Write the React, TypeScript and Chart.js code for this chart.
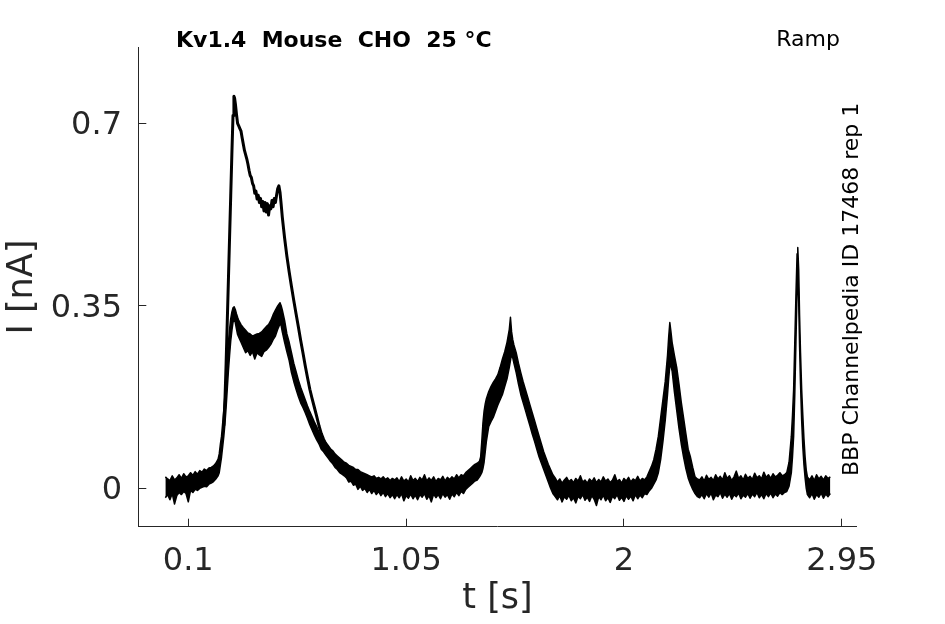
import { useEffect, useRef } from "react";
import { Chart, registerables } from "chart.js";

Chart.register(...registerables);

const xTicks = [0.1, 1.05, 2, 2.95];
const xTickLabels = ["0.1", "1.05", "2", "2.95"];
const yTicks = [0, 0.35, 0.7];
const yTickLabels = ["0", "0.35", "0.7"];

// overlaid small-amplitude sweeps, drawn as a band: [t (s), lower edge (nA), upper edge (nA)]
const base1 = [
	[0.0, -0.018, 0.022], [0.01, -0.012, 0.018], [0.02, -0.022, 0.015], [0.03, -0.01, 0.024],
	[0.04, -0.03, 0.016], [0.05, -0.014, 0.02], [0.06, -0.008, 0.026], [0.07, -0.012, 0.019],
	[0.08, -0.006, 0.028], [0.09, -0.01, 0.022], [0.1, -0.026, 0.024], [0.11, -0.004, 0.03],
	[0.12, -0.008, 0.025], [0.13, -0.002, 0.032], [0.14, -0.004, 0.027], [0.15, 0.0, 0.034],
	[0.16, 0.002, 0.031], [0.17, 0.004, 0.037], [0.18, 0.003, 0.034], [0.19, 0.008, 0.039],
	[0.2, 0.01, 0.04], [0.21, 0.013, 0.043], [0.22, 0.018, 0.048], [0.23, 0.024, 0.056],
];

const peak1 = [
	[0.235, 0.03, 0.066], [0.24, 0.045, 0.085], [0.245, 0.06, 0.1], [0.25, 0.08, 0.125],
	[0.255, 0.1, 0.15], [0.26, 0.125, 0.18], [0.265, 0.155, 0.215], [0.27, 0.19, 0.25],
	[0.275, 0.225, 0.28], [0.28, 0.255, 0.305], [0.285, 0.282, 0.325], [0.29, 0.302, 0.338],
	[0.295, 0.318, 0.346], [0.3, 0.325, 0.348], [0.305, 0.318, 0.343], [0.31, 0.306, 0.335],
	[0.315, 0.295, 0.328], [0.32, 0.29, 0.322], [0.33, 0.28, 0.314], [0.34, 0.27, 0.308],
	[0.35, 0.26, 0.303], [0.36, 0.264, 0.298], [0.37, 0.255, 0.296], [0.38, 0.262, 0.292],
	[0.39, 0.248, 0.294], [0.4, 0.26, 0.296], [0.41, 0.256, 0.297], [0.42, 0.253, 0.3],
	[0.43, 0.262, 0.305], [0.44, 0.265, 0.31], [0.45, 0.27, 0.314], [0.46, 0.276, 0.322],
	[0.47, 0.285, 0.333], [0.48, 0.292, 0.342], [0.49, 0.305, 0.35], [0.5, 0.315, 0.356],
	[0.505, 0.312, 0.35], [0.51, 0.3, 0.342], [0.52, 0.28, 0.322], [0.53, 0.262, 0.296],
	[0.54, 0.245, 0.28], [0.55, 0.222, 0.26], [0.56, 0.205, 0.24], [0.57, 0.19, 0.224],
	[0.58, 0.176, 0.208], [0.59, 0.164, 0.194], [0.6, 0.155, 0.182], [0.61, 0.145, 0.17],
	[0.62, 0.134, 0.158], [0.63, 0.122, 0.147], [0.64, 0.112, 0.137], [0.65, 0.102, 0.127],
	[0.66, 0.093, 0.118], [0.67, 0.085, 0.108], [0.68, 0.075, 0.1], [0.69, 0.07, 0.094],
	[0.7, 0.064, 0.088], [0.71, 0.058, 0.082], [0.72, 0.052, 0.076], [0.73, 0.047, 0.072],
	[0.74, 0.04, 0.066], [0.75, 0.036, 0.062], [0.76, 0.03, 0.058], [0.77, 0.027, 0.054],
	[0.78, 0.024, 0.05], [0.79, 0.02, 0.048], [0.8, 0.012, 0.044], [0.81, 0.014, 0.042],
	[0.82, 0.006, 0.04], [0.83, 0.008, 0.036], [0.84, -0.002, 0.036], [0.85, 0.004, 0.032],
	[0.86, -0.004, 0.03], [0.87, 0.0, 0.028], [0.88, -0.008, 0.026], [0.89, -0.002, 0.024],
	[0.9, -0.01, 0.022], [0.91, -0.004, 0.024], [0.92, -0.012, 0.019], [0.93, -0.006, 0.021],
	[0.94, -0.014, 0.018], [0.95, -0.008, 0.022], [0.96, -0.016, 0.017], [0.97, -0.01, 0.02],
	[0.98, -0.018, 0.015], [0.99, -0.012, 0.019],
];

const base2 = [
	[1.0, -0.02, 0.016], [1.01, -0.012, 0.02], [1.02, -0.018, 0.013], [1.03, -0.01, 0.022],
	[1.04, -0.024, 0.014], [1.05, -0.014, 0.018], [1.06, -0.019, 0.012], [1.07, -0.011, 0.024],
	[1.08, -0.02, 0.015], [1.09, -0.013, 0.019], [1.1, -0.022, 0.013], [1.11, -0.012, 0.021],
	[1.12, -0.017, 0.016], [1.13, -0.01, 0.026], [1.14, -0.021, 0.014], [1.15, -0.014, 0.02],
	[1.16, -0.026, 0.015], [1.17, -0.011, 0.022], [1.18, -0.018, 0.013], [1.19, -0.012, 0.019],
	[1.2, -0.02, 0.016], [1.21, -0.01, 0.023], [1.22, -0.017, 0.014], [1.23, -0.012, 0.021],
	[1.24, -0.021, 0.017], [1.25, -0.011, 0.022], [1.26, -0.016, 0.018], [1.27, -0.008, 0.026],
	[1.28, -0.014, 0.02], [1.29, -0.006, 0.026], [1.3, -0.01, 0.024],
];

const peak2 = [
	[1.31, -0.002, 0.03], [1.32, 0.002, 0.034], [1.33, 0.006, 0.038], [1.34, 0.01, 0.042],
	[1.35, 0.014, 0.046], [1.36, 0.016, 0.048], [1.37, 0.022, 0.052], [1.375, 0.026, 0.06],
	[1.38, 0.03, 0.09], [1.385, 0.038, 0.125], [1.39, 0.05, 0.148], [1.395, 0.07, 0.162],
	[1.4, 0.09, 0.172], [1.41, 0.118, 0.185], [1.42, 0.128, 0.195], [1.43, 0.136, 0.203],
	[1.44, 0.148, 0.21], [1.45, 0.16, 0.218], [1.46, 0.17, 0.232], [1.47, 0.18, 0.248],
	[1.48, 0.195, 0.262], [1.49, 0.21, 0.28], [1.5, 0.232, 0.305], [1.505, 0.245, 0.328],
	[1.51, 0.258, 0.3], [1.515, 0.25, 0.285], [1.52, 0.24, 0.275], [1.53, 0.222, 0.26],
	[1.54, 0.2, 0.24], [1.55, 0.18, 0.222], [1.56, 0.165, 0.205], [1.57, 0.15, 0.19],
	[1.58, 0.135, 0.175], [1.59, 0.12, 0.16], [1.6, 0.104, 0.145], [1.61, 0.09, 0.13],
	[1.62, 0.075, 0.115], [1.63, 0.06, 0.1], [1.64, 0.048, 0.085], [1.65, 0.036, 0.07],
	[1.66, 0.024, 0.058], [1.67, 0.012, 0.046], [1.68, 0.0, 0.036], [1.69, -0.01, 0.026],
	[1.7, -0.016, 0.02],
];

const base3 = [
	[1.71, -0.022, 0.012], [1.72, -0.014, 0.018], [1.73, -0.026, 0.01], [1.74, -0.016, 0.016],
	[1.75, -0.021, 0.021], [1.76, -0.013, 0.013], [1.77, -0.024, 0.017], [1.78, -0.018, 0.011],
	[1.79, -0.028, 0.019], [1.8, -0.015, 0.014], [1.81, -0.02, 0.024], [1.82, -0.012, 0.012],
	[1.83, -0.023, 0.016], [1.84, -0.017, 0.01], [1.85, -0.025, 0.018], [1.86, -0.014, 0.013],
	[1.87, -0.021, 0.02], [1.88, -0.033, 0.011], [1.89, -0.016, 0.017], [1.9, -0.022, 0.012],
	[1.91, -0.013, 0.022], [1.92, -0.024, 0.014], [1.93, -0.018, 0.018], [1.94, -0.027, 0.011],
	[1.95, -0.015, 0.016], [1.96, -0.02, 0.026], [1.97, -0.012, 0.013], [1.98, -0.023, 0.017],
	[1.99, -0.017, 0.01], [2.0, -0.025, 0.019], [2.01, -0.014, 0.014], [2.02, -0.021, 0.021],
	[2.03, -0.015, 0.012], [2.04, -0.024, 0.018], [2.05, -0.012, 0.015], [2.06, -0.02, 0.023],
	[2.07, -0.013, 0.014], [2.08, -0.018, 0.019], [2.09, -0.01, 0.016],
];

const peak3 = [
	[2.1, -0.012, 0.022], [2.11, -0.005, 0.032], [2.12, 0.0, 0.042], [2.13, 0.008, 0.055],
	[2.14, 0.016, 0.075], [2.15, 0.03, 0.1], [2.16, 0.055, 0.135], [2.17, 0.09, 0.17],
	[2.18, 0.13, 0.205], [2.19, 0.18, 0.255], [2.195, 0.21, 0.29], [2.2, 0.235, 0.318],
	[2.205, 0.235, 0.3], [2.21, 0.225, 0.28], [2.22, 0.185, 0.255], [2.23, 0.15, 0.232],
	[2.24, 0.115, 0.2], [2.25, 0.085, 0.165], [2.26, 0.06, 0.135], [2.27, 0.038, 0.105],
	[2.28, 0.02, 0.075], [2.29, 0.008, 0.06], [2.3, -0.002, 0.04], [2.31, -0.01, 0.022],
	[2.32, -0.016, 0.018],
];

const base4 = [
	[2.33, -0.018, 0.016], [2.34, -0.012, 0.022], [2.35, -0.02, 0.014], [2.36, -0.01, 0.025],
	[2.37, -0.017, 0.017], [2.38, -0.009, 0.021], [2.39, -0.022, 0.015], [2.4, -0.013, 0.026],
	[2.41, -0.016, 0.018], [2.42, -0.008, 0.023], [2.43, -0.019, 0.016], [2.44, -0.011, 0.03],
	[2.45, -0.017, 0.019], [2.46, -0.01, 0.024], [2.47, -0.021, 0.015], [2.48, -0.012, 0.022],
	[2.49, -0.016, 0.033], [2.5, -0.009, 0.019], [2.51, -0.02, 0.024], [2.52, -0.013, 0.016],
	[2.53, -0.017, 0.027], [2.54, -0.01, 0.019], [2.55, -0.019, 0.023], [2.56, -0.011, 0.017],
	[2.57, -0.016, 0.029], [2.58, -0.008, 0.02], [2.59, -0.018, 0.024], [2.6, -0.012, 0.018],
	[2.61, -0.02, 0.031], [2.62, -0.01, 0.021], [2.63, -0.016, 0.026], [2.64, -0.009, 0.019],
	[2.65, -0.018, 0.028], [2.66, -0.011, 0.022], [2.67, -0.015, 0.025], [2.68, -0.008, 0.03],
	[2.69, -0.012, 0.024], [2.7, -0.008, 0.026],
];

const peak4 = [
	[2.71, -0.006, 0.03], [2.72, 0.004, 0.05], [2.73, 0.03, 0.1], [2.735, 0.06, 0.14],
	[2.74, 0.1, 0.19], [2.745, 0.18, 0.28], [2.75, 0.28, 0.37], [2.755, 0.38, 0.45],
	[2.758, 0.42, 0.462], [2.762, 0.36, 0.42], [2.766, 0.27, 0.33], [2.77, 0.2, 0.26],
	[2.775, 0.13, 0.19], [2.78, 0.08, 0.14], [2.785, 0.045, 0.095], [2.79, 0.02, 0.06],
	[2.795, 0.0, 0.035], [2.8, -0.012, 0.022],
];

const base5 = [
	[2.81, -0.018, 0.016], [2.82, -0.01, 0.024], [2.83, -0.021, 0.015], [2.84, -0.012, 0.026],
	[2.85, -0.017, 0.018], [2.86, -0.009, 0.023], [2.87, -0.019, 0.016], [2.88, -0.011, 0.024],
	[2.89, -0.016, 0.019], [2.9, -0.01, 0.022],
];

// the large-amplitude sweep: [t (s), I (nA)]
const bigSweep = [
	[0.255, 0.12], [0.26, 0.17], [0.265, 0.24], [0.27, 0.32], [0.275, 0.4], [0.28, 0.48],
	[0.285, 0.56], [0.29, 0.64], [0.295, 0.715], [0.299, 0.752], [0.302, 0.748], [0.306, 0.735],
	[0.31, 0.718], [0.315, 0.7], [0.32, 0.695], [0.325, 0.69], [0.33, 0.685], [0.335, 0.672],
	[0.34, 0.66], [0.345, 0.648], [0.35, 0.64], [0.355, 0.632], [0.36, 0.622], [0.365, 0.61],
	[0.37, 0.6], [0.375, 0.596], [0.38, 0.585], [0.385, 0.58], [0.39, 0.566], [0.395, 0.57],
	[0.4, 0.555], [0.405, 0.562], [0.41, 0.548], [0.415, 0.556], [0.42, 0.54], [0.425, 0.55],
	[0.43, 0.532], [0.435, 0.548], [0.44, 0.53], [0.445, 0.546], [0.45, 0.524], [0.455, 0.542],
	[0.46, 0.536], [0.465, 0.552], [0.47, 0.54], [0.475, 0.556], [0.48, 0.548], [0.485, 0.562],
	[0.49, 0.575], [0.495, 0.58], [0.5, 0.568], [0.505, 0.545], [0.51, 0.52], [0.515, 0.5],
	[0.52, 0.48], [0.53, 0.445], [0.54, 0.415], [0.55, 0.387], [0.56, 0.36], [0.57, 0.335],
	[0.58, 0.31], [0.59, 0.284], [0.6, 0.26], [0.61, 0.235], [0.62, 0.212], [0.63, 0.19],
	[0.64, 0.172], [0.65, 0.155], [0.66, 0.138], [0.67, 0.12], [0.68, 0.105], [0.69, 0.094],
	[0.7, 0.084], [0.71, 0.077], [0.72, 0.07],
];

const titleText = "Kv1.4  Mouse  CHO  25 °C";
const protocolText = "Ramp";
const sourceText = "BBP Channelpedia ID 17468 rep 1";

const FONT = "'DejaVu Sans', sans-serif";
const AXIS = "#262626";

const textPlugin = {
	id: "extraText",
	afterDraw(chart) {
		const { ctx } = chart;
		ctx.save();
		ctx.fillStyle = "#000";
		ctx.textBaseline = "alphabetic";
		ctx.textAlign = "left";
		ctx.font = `bold 22px ${FONT}`;
		ctx.fillText(titleText, 176, 47);
		ctx.font = `22px ${FONT}`;
		ctx.textAlign = "right";
		ctx.fillText(protocolText, 840, 46);
		ctx.translate(858, 476);
		ctx.rotate(-Math.PI / 2);
		ctx.textAlign = "left";
		ctx.font = `22px ${FONT}`;
		ctx.fillText(sourceText, 0, 0);
		ctx.restore();
	},
};

const App = (): JSX.Element => {
	const chartRef = useRef<HTMLCanvasElement | null>(null);

	useEffect(() => {
		const band = [...base1, ...peak1, ...base2, ...peak2, ...base3, ...peak3, ...base4, ...peak4, ...base5];
		const lowEdge = band.map((r) => ({ x: r[0], y: r[1] }));
		const highEdge = band.map((r) => ({ x: r[0], y: r[2] }));
		const big = bigSweep.map((r) => ({ x: r[0], y: r[1] }));

		const chart = new Chart(chartRef.current.getContext("2d"), {
			type: "line",
			data: {
				datasets: [
					{
						data: lowEdge,
						borderColor: "#000",
						borderWidth: 1.5,
						borderJoinStyle: "round",
						pointRadius: 0,
						fill: false,
					},
					{
						data: highEdge,
						borderColor: "#000",
						backgroundColor: "#000",
						borderWidth: 1.5,
						borderJoinStyle: "round",
						pointRadius: 0,
						fill: "-1",
					},
					{
						data: big,
						borderColor: "#000",
						borderWidth: 3,
						borderJoinStyle: "round",
						pointRadius: 0,
						fill: false,
					},
				],
			},
			options: {
				animation: false,
				responsive: true,
				maintainAspectRatio: false,
				layout: { padding: { left: 0, top: 47.5, right: 88.3, bottom: 0 } },
				plugins: {
					legend: { display: false },
					tooltip: { enabled: false },
					title: { display: false },
				},
				scales: {
					x: {
						type: "linear",
						min: -0.118,
						max: 3.015,
						afterBuildTicks: (s) => {
							s.ticks = xTicks.map((v) => ({ value: v }));
						},
						afterFit: (s) => {
							s.height = 97.3;
						},
						ticks: {
							callback: (v, i) => xTickLabels[i],
							font: { family: FONT, size: 32 },
							color: AXIS,
							padding: 24,
							maxRotation: 0,
							autoSkip: false,
						},
						grid: { drawOnChartArea: false, tickLength: -8, tickColor: AXIS, color: AXIS },
						border: { display: true, color: AXIS, width: 1 },
						title: {
							display: true,
							text: "t [s]",
							color: AXIS,
							font: { family: FONT, size: 35, lineHeight: 1.2 },
							padding: { top: 0, bottom: 4 },
						},
					},
					y: {
						type: "linear",
						min: -0.0736,
						max: 0.8454,
						afterBuildTicks: (s) => {
							s.ticks = yTicks.map((v) => ({ value: v }));
						},
						afterFit: (s) => {
							s.width = 138.3;
						},
						ticks: {
							callback: (v, i) => yTickLabels[i],
							font: { family: FONT, size: 32 },
							color: AXIS,
							padding: 24.3,
							labelOffset: 2.5,
							autoSkip: false,
						},
						grid: { drawOnChartArea: false, tickLength: -8, tickColor: AXIS, color: AXIS },
						border: { display: true, color: AXIS, width: 1 },
						title: {
							display: true,
							text: "I [nA]",
							color: AXIS,
							font: { family: FONT, size: 35, lineHeight: 1.2 },
							padding: { top: 2, bottom: 0 },
						},
					},
				},
			},
			plugins: [textPlugin],
		});

		return () => {
			chart.destroy();
		};
	}, []);

	return (
		<div style={{ position: "absolute", left: 0, top: 0, width: 945, height: 624 }}>
			<canvas ref={chartRef} />
		</div>
	);
};

export default App;
